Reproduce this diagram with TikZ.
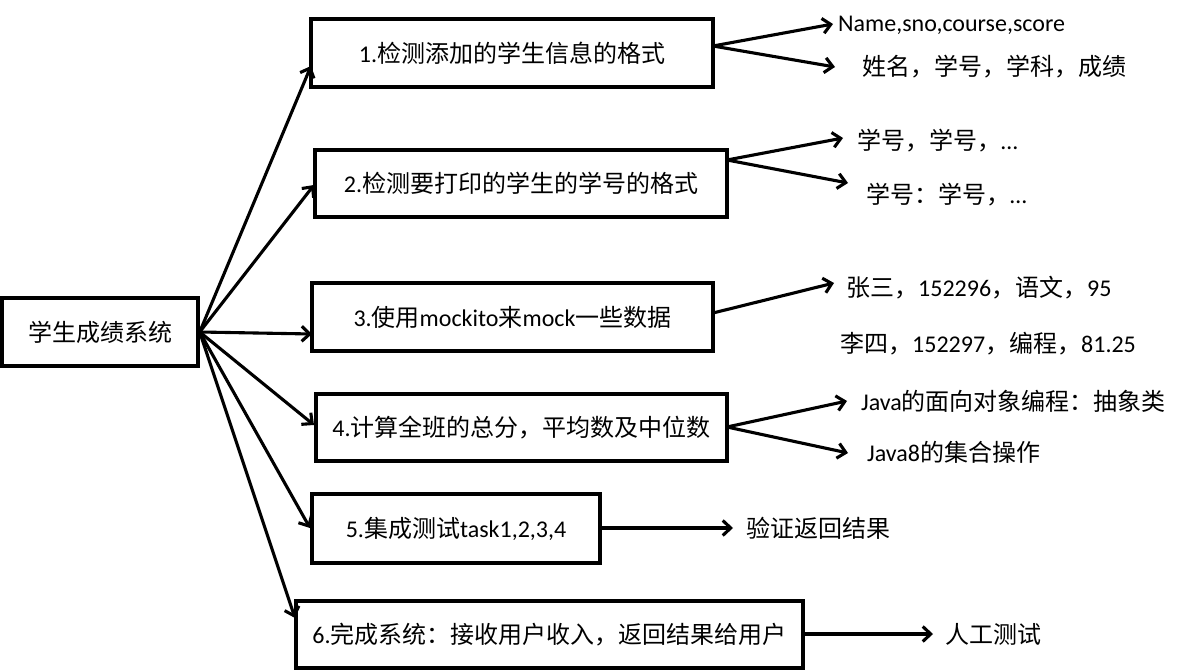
\documentclass[tikz,border=0pt]{standalone}
\usepackage{fontspec}
\setmainfont{Noto Sans CJK SC}
\newfontfamily\lat{Carlito}
\usetikzlibrary{arrows.meta}
\begin{document}
\begin{tikzpicture}[x=1pt,y=-1pt,
  box/.style={draw,line width=3.4pt,inner sep=0pt,align=center,font=\fontsize{24}{28}\selectfont},
  lbl/.style={anchor=base west,inner sep=0pt,font=\fontsize{24}{28}\selectfont},
  conn/.style={line width=3.1pt,-{Straight Barb[length=8pt,width=15pt,line width=3.1pt]}}]
\useasboundingbox (0,0) rectangle (1188,671);
% boxes
\node[box,minimum width=196pt,minimum height=68pt] (root) at (100,332) {学生成绩系统};
\node[box,minimum width=402pt,minimum height=68pt] (b1) at (512,53) {{\lat 1.}检测添加的学生信息的格式};
\node[box,minimum width=412pt,minimum height=67pt] (b2) at (521,183.5) {{\lat 2.}检测要打印的学生的学号的格式};
\node[box,minimum width=401pt,minimum height=68pt] (b3) at (512.5,317) {{\lat 3.}使用{\lat mockito}来{\lat mock}一些数据};
\node[box,minimum width=411pt,minimum height=67pt] (b4) at (521.5,427.5) {{\lat 4.}计算全班的总分，平均数及中位数};
\node[box,minimum width=288pt,minimum height=69pt] (b5) at (456,528.5) {{\lat 5.}集成测试{\lat task1,2,3,4}};
\node[box,minimum width=507pt,minimum height=67pt] (b6) at (549.5,634.5) {{\lat 6.}完成系统：接收用户收入，返回结果给用户};
% labels
\node[lbl] (t1a) at (838,32) {\lat Name,sno,course,score};
\node[lbl] (t1b) at (862,76) {姓名，学号，学科，成绩};
\node[lbl] (t2a) at (857,150) {学号，学号，{\lat …}};
\node[lbl] (t2b) at (866,204) {学号：学号，{\lat …}};
\node[lbl] (t3a) at (846,296) {张三，{\lat 152296}，语文，{\lat 95}};
\node[lbl] (t3b) at (840,352) {李四，{\lat 152297}，编程，{\lat 81.25}};
\node[lbl] (t4a) at (861,410) {{\lat Java}的面向对象编程：抽象类};
\node[lbl] (t4b) at (867,461) {{\lat Java8}的集合操作};
\node[lbl] (t5) at (746,537) {验证返回结果};
\node[lbl] (t6) at (945,643) {人工测试};
% connector end points
\coordinate (e1) at (311,66);
\coordinate (e2) at (314,185);
\coordinate (e3) at (312,334);
\coordinate (e4) at (314,425);
\coordinate (e5) at (310,528);
\coordinate (e6) at (295,618);
\coordinate (s1) at (713,46);
\coordinate (s2) at (727,160);
\coordinate (s3) at (713,313);
\coordinate (s4) at (727,427);
\coordinate (s5) at (600,528);
\coordinate (s6) at (803,634);
\coordinate (r1a) at (833,24);
\coordinate (r1b) at (835,67);
\coordinate (r2a) at (843,138);
\coordinate (r2b) at (848,183);
\coordinate (r3a) at (834,283);
\coordinate (r4a) at (847,401);
\coordinate (r4b) at (848,453);
\coordinate (r5) at (733,528);
\coordinate (r6) at (933,634);
% connectors
\foreach \e in {e1,e2,e3,e4,e5,e6}
  \draw[conn] (root.east) -- (\e);
\draw[conn] (s1) -- (r1a);
\draw[conn] (s1) -- (r1b);
\draw[conn] (s2) -- (r2a);
\draw[conn] (s2) -- (r2b);
\draw[conn] (s3) -- (r3a);
\draw[conn] (s4) -- (r4a);
\draw[conn] (s4) -- (r4b);
\draw[conn] (s5) -- (r5);
\draw[conn] (s6) -- (r6);
\end{tikzpicture}
\end{document}
